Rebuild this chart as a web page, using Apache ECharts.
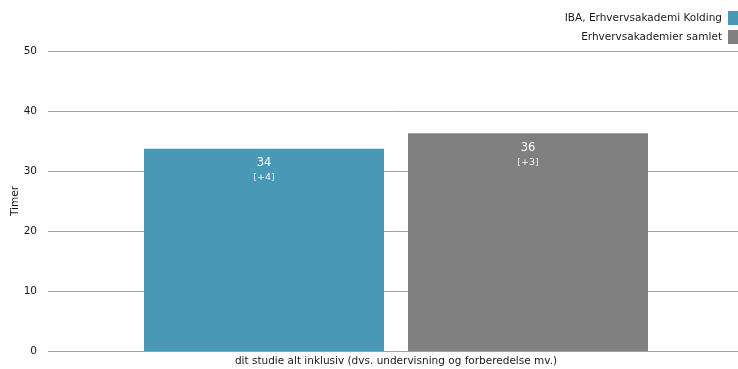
<!DOCTYPE html>
<html><head><meta charset="utf-8">
<script src="https://cdn.jsdelivr.net/npm/echarts@6/dist/echarts.min.js"></script>
<style>html,body{margin:0;padding:0;background:#fff}#c{width:738px;height:369px}</style>
</head><body><div id="c"></div>
<script>
var categories = ['dit studie alt inklusiv (dvs. undervisning og forberedelse mv.)'];
var seriesNames = ['IBA, Erhvervsakademi Kolding', 'Erhvervsakademier samlet'];
var valuesIBA = [33.7];
var valuesAll = [36.3];
var diffIBA = ['[+4]'];
var diffAll = ['[+3]'];
var yTicks = [0, 10, 20, 30, 40, 50];
var colors = ['#4999b6', '#808080'];
var FONT = 'DejaVu Sans';

function mkLabel(diffs) {
  return {
    show: true, position: 'insideTop', distance: 7,
    formatter: function (p) { return '{a|' + Math.round(p.value) + '}\n{b|' + diffs[p.dataIndex] + '}'; },
    rich: {
      a: { color: '#fff', fontSize: 11.5, fontFamily: FONT, lineHeight: 15 },
      b: { color: '#f0f0f0', fontSize: 9.5, fontFamily: FONT, lineHeight: 14 }
    }
  };
}
var chart = echarts.init(document.getElementById('c'));
chart.setOption({
  animation: false,
  textStyle: { fontFamily: FONT },
  legend: {
    orient: 'vertical', right: 0, top: 11, align: 'right', padding: 0,
    itemWidth: 10, itemHeight: 14, itemGap: 5, icon: 'rect',
    textStyle: { fontSize: 10.5, color: '#1a1a1a', fontFamily: FONT, padding: [0, 1, 0, 0] },
    data: seriesNames
  },
  grid: { left: 48, right: -6, top: 51, bottom: 18, containLabel: false, outerBoundsMode: 'none' },
  xAxis: {
    type: 'category', data: categories,
    axisLine: { show: false }, axisTick: { show: false },
    axisLabel: { fontSize: 10.5, color: '#1a1a1a', margin: 5, fontFamily: FONT }
  },
  yAxis: {
    type: 'value', min: yTicks[0], max: yTicks[yTicks.length - 1], interval: 10,
    name: 'Timer', nameLocation: 'middle', nameGap: 27, nameRotate: 90, nameMoveOverlap: false,
    nameTextStyle: { fontSize: 10.5, color: '#1a1a1a', fontFamily: FONT },
    axisLine: { show: false }, axisTick: { show: false },
    axisLabel: { fontSize: 10.5, color: '#1a1a1a', margin: 11, fontFamily: FONT },
    splitLine: { lineStyle: { color: '#a0a0a0', width: 1 } }
  },
  series: [
    { name: seriesNames[0], type: 'bar', data: valuesIBA, barWidth: 240, barGap: '10%',
      itemStyle: { color: colors[0] }, label: mkLabel(diffIBA) },
    { name: seriesNames[1], type: 'bar', data: valuesAll, barWidth: 240, barGap: '10%',
      itemStyle: { color: colors[1] }, label: mkLabel(diffAll) }
  ]
});
</script></body></html>
